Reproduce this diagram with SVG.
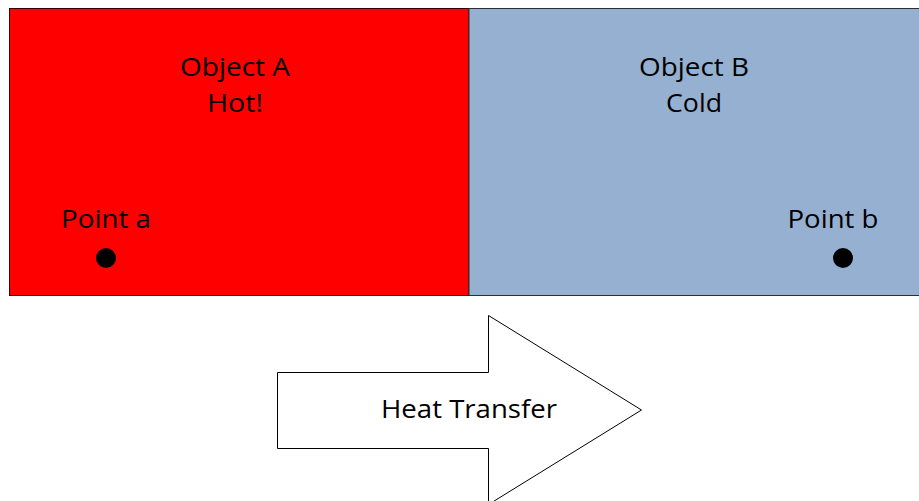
<svg xmlns="http://www.w3.org/2000/svg" width="919" height="501" viewBox="0 0 919 501">
<style>
text{font-family:"Open Sans","Liberation Sans",sans-serif;font-size:26px;fill:#000;text-anchor:middle}
.dot{fill:#000}
</style>
<rect width="919" height="501" fill="#fff"/>
<g id="objectA">
<rect x="9.5" y="8.5" width="459.5" height="287" fill="#ff0000" stroke="#3a0000" stroke-width="1"/>
<text x="235" y="76" textLength="110" lengthAdjust="spacingAndGlyphs">Object A</text>
<text x="235" y="112" textLength="56" lengthAdjust="spacingAndGlyphs">Hot!</text>
</g>
<g id="objectB">
<rect x="469" y="8.5" width="455" height="287" fill="#95b0d1" stroke="#2b2f36" stroke-width="1"/>
<text x="694" y="76" textLength="110" lengthAdjust="spacingAndGlyphs">Object B</text>
<text x="694" y="112" textLength="56" lengthAdjust="spacingAndGlyphs">Cold</text>
</g>
<g id="pointA">
<text x="106" y="228" textLength="90" lengthAdjust="spacingAndGlyphs">Point a</text>
<circle class="dot" cx="106" cy="258" r="10"/>
</g>
<g id="pointB">
<text x="833" y="228" textLength="91" lengthAdjust="spacingAndGlyphs">Point b</text>
<circle class="dot" cx="843" cy="258" r="10"/>
</g>
<g id="heatTransfer">
<polygon points="277.5,372.5 488.5,372.5 488.5,315.5 641.5,410 488.5,504.5 488.5,448.5 277.5,448.5" fill="#fff" stroke="#000" stroke-width="1"/>
<text x="469" y="418" textLength="176" lengthAdjust="spacingAndGlyphs">Heat Transfer</text>
</g>
<g id="connectors"></g>
</svg>
